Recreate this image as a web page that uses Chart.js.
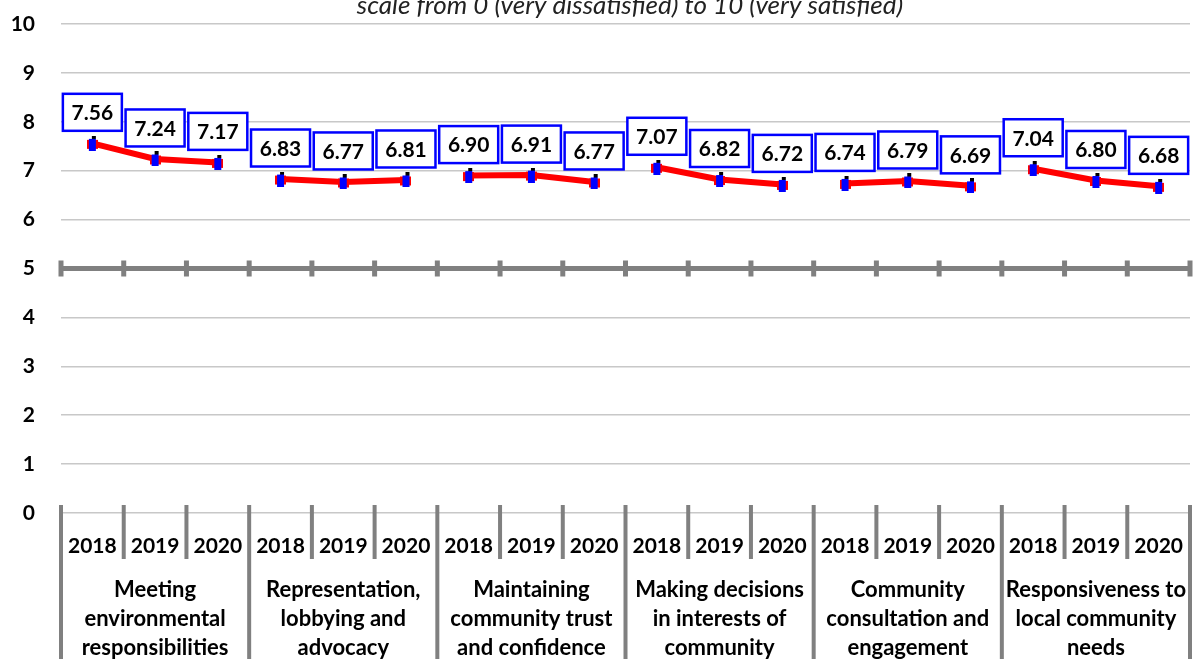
<!DOCTYPE html>
<html><head><meta charset="utf-8">
<script src="https://cdn.jsdelivr.net/npm/chart.js@4"></script>
<style>html,body{margin:0;padding:0;background:#fff;overflow:hidden;} canvas{display:block}</style>
</head><body>
<canvas id="c" width="1200" height="659"></canvas>
<script>
const chartTitle = "scale from 0 (very dissatisfied) to 10 (very satisfied)";
const years = ["2018", "2019", "2020"];
const groupNames = [
  ["Meeting", "environmental", "responsibilities"],
  ["Representation,", "lobbying and", "advocacy"],
  ["Maintaining", "community trust", "and confidence"],
  ["Making decisions", "in interests of", "community"],
  ["Community", "consultation and", "engagement"],
  ["Responsiveness to", "local community", "needs"]
];
const scores = [7.56, 7.24, 7.17, 6.83, 6.77, 6.81, 6.90, 6.91, 6.77, 7.07, 6.82, 6.72, 6.74, 6.79, 6.69, 7.04, 6.80, 6.68];
const axisCross = 5;

const labels = groupNames.flatMap(() => years);
const FONT = "Lato, 'Open Sans', sans-serif";

// marker image
const mk = document.createElement('canvas');
mk.width = 11; mk.height = 15;
const m = mk.getContext('2d');
m.fillStyle = '#ff0000'; m.fillRect(0, 4, 11, 9);
m.fillStyle = '#0000ff'; m.fillRect(2, 3, 7, 12);
m.fillStyle = '#000000'; m.fillRect(5, 0, 4, 3);

const deco = {
  id: 'deco',
  beforeDatasetsDraw(chart) {
    const ctx = chart.ctx, x = chart.scales.x, y = chart.scales.y, ca = chart.chartArea;
    const step = x.getPixelForValue(1) - x.getPixelForValue(0);
    const y5 = y.getPixelForValue(axisCross);
    ctx.save();
    ctx.fillStyle = '#808080';
    for (let i = 0; i <= labels.length; i++) {
      const bx = x.getPixelForValue(0) - step / 2 + i * step;
      ctx.fillRect(bx - 2.5, y5 - 8, 5, 16);
      const yEnd = (i % 3 === 0) ? chart.height : 559;
      ctx.fillRect(bx - 2, ca.bottom - 8, 4, yEnd - (ca.bottom - 8));
    }
    ctx.fillStyle = '#000';
    ctx.font = "bold 22px " + FONT;
    ctx.textAlign = 'center';
    ctx.textBaseline = 'middle';
    groupNames.forEach((lines, g) => {
      const cx = x.getPixelForValue(g * 3 + 1);
      lines.forEach((t, k) => ctx.fillText(t, cx, 590 + k * 29));
    });
    ctx.restore();
  },
  afterDatasetsDraw(chart) {
    const ctx = chart.ctx;
    const meta = chart.getDatasetMeta(0);
    ctx.save();
    ctx.font = "bold 21px " + FONT;
    ctx.textAlign = 'center';
    ctx.textBaseline = 'middle';
    meta.data.forEach((pt, i) => {
      const w = 59, h = 37;
      const bx = pt.x - w / 2, by = pt.y - 12.5 - h;
      ctx.fillStyle = '#fff';
      ctx.fillRect(bx, by, w, h);
      ctx.strokeStyle = '#0000ff';
      ctx.lineWidth = 2.5;
      ctx.strokeRect(bx, by, w, h);
      ctx.fillStyle = '#000';
      ctx.fillText(scores[i].toFixed(2), pt.x, by + h / 2 + 1);
    });
    ctx.restore();
  },
  afterDraw(chart) {
    const ctx = chart.ctx;
    ctx.save();
    ctx.font = "italic 26px " + FONT;
    ctx.fillStyle = '#222';
    ctx.textAlign = 'center';
    ctx.textBaseline = 'alphabetic';
    ctx.fillText(chartTitle, 630, 14);
    ctx.restore();
  }
};

new Chart(document.getElementById('c'), {
  type: 'line',
  data: {
    labels: labels,
    datasets: [{
      data: scores,
      borderColor: '#ff0000',
      borderWidth: 6,
      tension: 0,
      pointStyle: mk,
      segment: {
        borderColor: c => (c.p0DataIndex % 3 === 2) ? 'rgba(0,0,0,0)' : '#ff0000'
      }
    }]
  },
  options: {
    responsive: false,
    animation: false,
    devicePixelRatio: 1,
    layout: { padding: { top: 24, right: 2, left: 0, bottom: 0 } },
    plugins: { legend: { display: false }, tooltip: { enabled: false } },
    scales: {
      x: {
        offset: true,
        grid: { display: false, offset: true },
        border: { display: false },
        ticks: { color: '#000', font: { family: FONT, size: 21, weight: 'bold' }, padding: 13, maxRotation: 0, autoSkip: false },
        afterFit: s => { s.height = 146; s.paddingLeft = 0; s.paddingRight = 0; }
      },
      y: {
        min: 0, max: 10,
        border: { display: false },
        grid: {
          drawTicks: false,
          color: c => c.tick && c.tick.value === axisCross ? '#808080' : '#c8c8c8',
          lineWidth: c => c.tick && c.tick.value === axisCross ? 5 : 1.5
        },
        ticks: { stepSize: 1, color: '#000', padding: 26, font: { family: FONT, size: 21, weight: 'bold' } },
        afterFit: s => { s.width = 61; s.paddingTop = 0; s.paddingBottom = 0; }
      }
    }
  },
  plugins: [deco]
});
</script>
</body></html>
